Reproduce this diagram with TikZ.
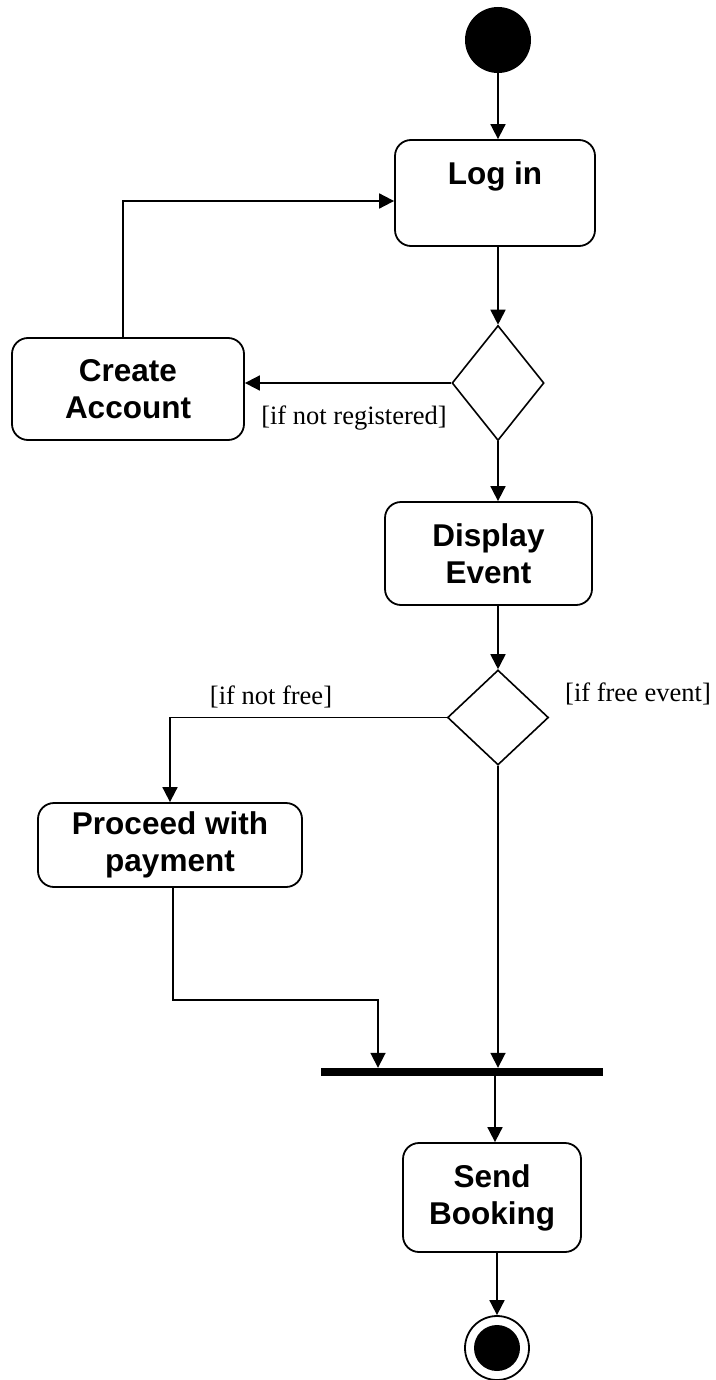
\documentclass[tikz,border=0pt]{standalone}
\usepackage{fontspec}
\setmainfont{Liberation Serif}
\newfontfamily\boxfont{Liberation Sans}
\usetikzlibrary{shapes.geometric,arrows.meta}
\begin{document}
\begin{tikzpicture}[x=1pt,y=-1pt,
  act/.style={draw,line width=1.8pt,rounded corners=16pt,inner sep=0pt,align=center,
     font=\boxfont\bfseries\fontsize{31.5}{37}\selectfont},
  dec/.style={draw,diamond,line width=1.6pt,inner sep=0pt},
  arr/.style={line width=1.8pt,-{Triangle[length=15pt,width=15pt]}},
  guard/.style={font=\fontsize{26.5}{30}\selectfont,inner sep=0pt}]
\useasboundingbox (0,0) rectangle (715,1380);
% nodes
\node[circle,fill=black,minimum size=66pt,inner sep=0pt] (start) at (498,40) {};
\node[act,minimum width=200pt,minimum height=106pt] (login) at (495,193) {};
\node[font=\boxfont\bfseries\fontsize{31.5}{37}\selectfont,inner sep=0pt] (logintext) at (495,176) {Log in};
\node[dec,minimum width=92pt,minimum height=115pt] (d1) at (498,383) {};
\node[act,minimum width=232pt,minimum height=102pt] (create) at (128,389) {Create\\Account};
\node[act,minimum width=207pt,minimum height=103pt] (display) at (488.5,553.5) {Display\\Event};
\node[dec,minimum width=101pt,minimum height=95pt] (d2) at (498,717.5) {};
\node[act,minimum width=264pt,minimum height=84pt] (proceed) at (170,845) {Proceed with\\payment};
\node[fill=black,minimum width=282pt,minimum height=8pt,inner sep=0pt] (bar) at (462,1072) {};
\node[act,minimum width=178pt,minimum height=109pt] (send) at (492,1197.5) {Send\\Booking};
\node[circle,draw,line width=1.8pt,minimum size=64pt,inner sep=0pt] (final) at (497,1348) {};
\node[circle,fill=black,minimum size=46pt,inner sep=0pt] (finalin) at (final.center) {};
% guards
\node[guard] (g1) at (354,418) {[if not registered]};
\node[guard] (g2) at (638,694) {[if free event]};
\node[guard] (g3) at (271,697) {[if not free]};
% connectors
\draw[arr] (start.south) -- (start.south |- login.north);
\coordinate (cu) at ([xshift=-5pt]create.north);
\draw[arr] (cu) |- ([yshift=-8pt]login.west);
\draw[arr] (d1.north |- login.south) -- (d1.north);
\draw[arr] (d1.west) -- (d1.west -| create.east);
\draw[arr] (d1.south) -- (d1.south |- display.north);
\draw[arr] (d2.north |- display.south) -- (d2.north);
\draw[arr] (d2.west) -| (proceed.north);
\draw[arr] (d2.south) -- (d2.south |- bar.north);
\coordinate (j) at (378,1000);
\draw[arr] ([xshift=3pt]proceed.south) |- (j) -- (j |- bar.north);
\draw[arr] ([xshift=3pt]send.north |- bar.south) -- ([xshift=3pt]send.north);
\draw[arr] (final.north |- send.south) -- (final.north);
\end{tikzpicture}
\end{document}
